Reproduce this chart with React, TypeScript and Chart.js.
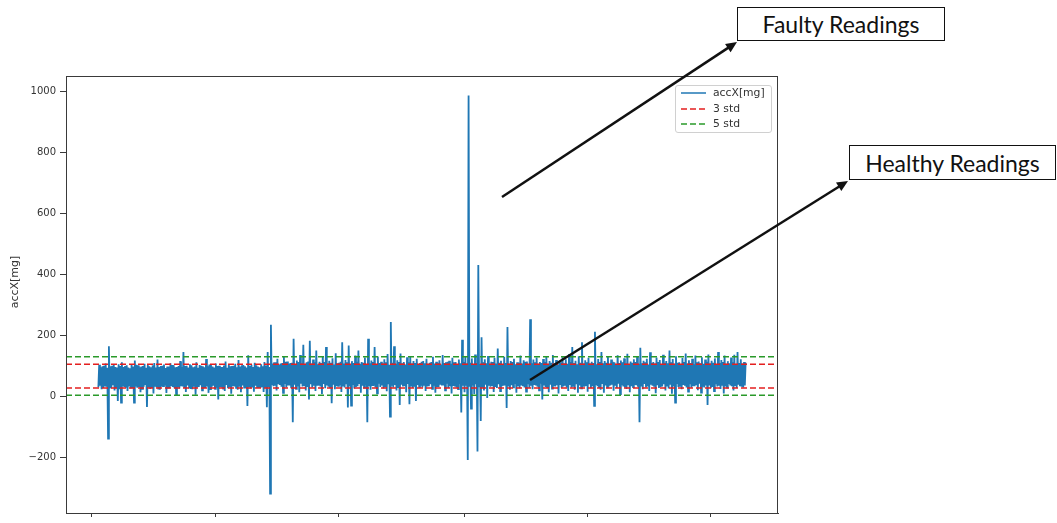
import React, { useEffect, useRef } from 'react';
import { Chart, registerables } from 'chart.js';
Chart.register(...registerables);

// ---- data: per x-bin, the lowest and the highest reading ----
const lows0 = [30, 35, 24, 28, 33, 32, -138, 26, 27, 37, 20, 30, -15, 24, -20, 34, 31, 29, 18, 36, 26, 27, -20, 33, 29, 31, 14, 25, 32, 38, -34, 30, 25, 28, 10, 35, 30, 23, 22, 32, 34, 36, 12, 29, 27, 34, 31, 27, 8, 31];
const lows1 = [26, 34, 33, 28, 15, 36, 29, 25, 24, 32, 6, 30, 31, 37, 20, 27, 28, 33, 12, 24, 32, 35, 25, 29, -10, 31, 30, 26, 18, 38, 27, 30, 9, 34, 33, 28, 22, 32, 14, 36, 29, 27, -31, 33, 26, 30, 16, 35, 31, 29];
const lows2 = [28, 33, 15, 29, -35, 31, -318, 38, 34, 35, 20, 40, 38, 32, 12, 41, 30, 36, 36, 30, -84, 39, 25, 34, 14, 42, 33, 37, 20, 31, -10, 40, 30, 35, 18, 38, 36, 33, 8, 41, 27, 36, 32, 30, -22, 39, 24, 34, 35, 37];
const lows3 = [15, 36, 30, 40, -36, 33, -30, 38, 26, 31, 34, 41, 12, 35, 29, 39, -84, 34, 22, 37, 35, 30, 10, 42, 31, 36, 26, 33, 17, 40, -66, 35, 30, 38, 20, 31, -28, 39, 33, 34, 14, 41, -25, 36, 28, 32, -15, 38, 32, 35];
const lows4 = [30, 38, 18, 33, 34, 40, 25, 35, 12, 31, 31, 39, 36, 36, 20, 42, 28, 34, 10, 37, 33, 30, 24, 41, -52, 35, 14, 38, -208, 32, -40, 36, 8, 40, -180, 33, -80, 29, 20, 39, -5, 35, 32, 37, 15, 31, 28, 40, 18, 34];
const lows5 = [35, 39, -38, 33, 22, 37, 30, 41, 12, 34, 27, 36, 34, 30, 16, 40, 29, 35, 24, 38, 36, 32, 20, 42, -10, 36, 31, 31, 14, 39, 26, 34, 33, 37, 10, 41, 28, 33, 35, 30, 18, 38, 30, 35, 22, 40, 12, 36, 27, 32];
const lows6 = [32, 37, 16, 40, 27, 34, -31, 38, 34, 31, 22, 41, 12, 36, 30, 33, 36, 39, 19, 35, 28, 42, 8, 37, 33, 30, 25, 40, 14, 34, 31, 38, 37, 32, -84, 36, 24, 41, 30, 33, 18, 39, 35, 35, 11, 37, 28, 31, 33, 40];
const lows7 = [20, 36, 26, 39, 9, 33, -20, 41, 31, 35, 24, 38, 35, 30, 16, 40, 29, 34, 34, 37, 21, 42, 13, 32, 30, 36, -28, 39, 27, 31, 18, 40, 33, 35, 25, 38, 10, 33, 29, 41, 36, 34, 20, 37, 28, 39, 34, 32, 30, 36];

const highs0 = [104, 96, 99, 101, 108, 94, 165, 99, 101, 103, 97, 95, 106, 100, 112, 97, 100, 102, 95, 93, 104, 98, 118, 104, 102, 96, 98, 100, 107, 94, 103, 99, 96, 102, 110, 95, 121, 97, 100, 101, 105, 93, 98, 98, 109, 103, 102, 96, 97, 100];
const highs1 = [116, 97, 146, 100, 101, 95, 106, 102, 96, 98, 112, 94, 103, 101, 99, 96, 123, 99, 105, 103, 98, 95, 108, 100, 101, 97, 97, 102, 115, 94, 103, 99, 100, 101, 107, 96, 120, 98, 102, 103, 99, 95, 135, 100, 104, 97, 111, 102, 98, 96];
const highs2 = [106, 99, 113, 102, 146, 97, 235, 108, 112, 112, 124, 105, 108, 110, 131, 114, 115, 107, 110, 111, 189, 106, 118, 113, 136, 109, 170, 104, 112, 115, 183, 108, 121, 112, 151, 106, 114, 110, 133, 113, 162, 107, 117, 111, 125, 105, 142, 109, 111, 114];
const highs3 = [178, 108, 120, 112, 167, 106, 116, 110, 134, 114, 151, 107, 113, 111, 128, 105, 189, 109, 118, 113, 162, 106, 131, 110, 114, 108, 122, 112, 139, 104, 244, 111, 165, 107, 119, 113, 141, 109, 113, 105, 129, 112, 130, 108, 116, 110, 124, 106, 110, 114];
const highs4 = [116, 109, 124, 106, 111, 113, 130, 108, 114, 111, 119, 105, 136, 110, 112, 114, 117, 107, 127, 112, 113, 106, 121, 109, 186, 113, 132, 108, 987, 111, 125, 105, 138, 110, 431, 107, 194, 112, 122, 109, 133, 106, 114, 113, 127, 108, 157, 111, 117, 105];
const highs5 = [130, 110, 228, 107, 116, 113, 124, 106, 112, 111, 134, 108, 119, 114, 115, 105, 253, 109, 121, 112, 128, 107, 113, 110, 123, 113, 131, 106, 116, 111, 136, 108, 120, 104, 112, 112, 129, 109, 122, 107, 139, 113, 162, 110, 117, 106, 132, 111, 178, 108];
const highs6 = [119, 112, 127, 108, 114, 110, 212, 106, 123, 113, 146, 109, 116, 111, 131, 107, 121, 114, 112, 105, 135, 110, 118, 112, 125, 108, 140, 106, 115, 111, 122, 113, 130, 107, 160, 109, 117, 112, 124, 105, 145, 110, 113, 108, 128, 113, 120, 106, 137, 111];
const highs7 = [116, 109, 151, 112, 123, 107, 132, 111, 112, 105, 126, 113, 141, 108, 119, 110, 124, 106, 134, 112, 115, 109, 129, 107, 121, 114, 138, 108, 117, 111, 125, 105, 146, 110, 120, 113, 134, 107, 116, 109, 128, 112, 137, 106, 146, 110, 122, 108, 113, 111];

const std3Levels = [28, 106];
const std5Levels = [4, 130];

const seriesLabels = ['accX[mg]', '3 std', '5 std'];
const yAxisTitle = 'accX[mg]';
const yTicks = [-200, 0, 200, 400, 600, 800, 1000];
const xTicks = [-4, 72, 148, 226, 302, 378];
const annotations = ['Faulty Readings', 'Healthy Readings'];

const X_MIN = -19.975;
const X_MAX = 419.475;
const Y_MIN = -382;
const Y_MAX = 1051;

const BLUE = '#1f77b4';
const RED = '#e41f1f';
const GREEN = '#2a9a2a';
const AXIS = '#3a3a3a';

const framePlugin = {
  id: 'frameAndTitle',
  afterDraw(chart: any) {
    const { ctx, chartArea } = chart;
    const { left, top, right, bottom } = chartArea;
    ctx.save();
    ctx.strokeStyle = AXIS;
    ctx.lineWidth = 1;
    ctx.strokeRect(Math.round(left) + 0.5, Math.round(top) + 0.5, Math.round(right - left) - 1, Math.round(bottom - top));
    ctx.translate(15, 282);
    ctx.rotate(-Math.PI / 2);
    ctx.fillStyle = '#333';
    ctx.font = '11px "DejaVu Sans"';
    ctx.textAlign = 'center';
    ctx.textBaseline = 'middle';
    ctx.fillText(yAxisTitle, 0, 0);
    ctx.restore();
  },
};

function arrowHead(x1: number, y1: number, x2: number, y2: number, len: number, half: number) {
  const dx = x2 - x1;
  const dy = y2 - y1;
  const d = Math.hypot(dx, dy);
  const ux = dx / d;
  const uy = dy / d;
  const bx = x2 - ux * len;
  const by = y2 - uy * len;
  const px = -uy;
  const py = ux;
  return `${x2},${y2} ${bx + px * half},${by + py * half} ${bx - px * half},${by - py * half}`;
}

export default function App() {
  const ref = useRef<HTMLCanvasElement>(null);

  useEffect(() => {
    const lows = [...lows0, ...lows1, ...lows2, ...lows3, ...lows4, ...lows5, ...lows6, ...lows7];
    const highs = [...highs0, ...highs1, ...highs2, ...highs3, ...highs4, ...highs5, ...highs6, ...highs7];
    const pts: { x: number; y: number }[] = [];
    for (let i = 0; i < lows.length; i++) {
      pts.push({ x: i, y: lows[i] });
      pts.push({ x: i + 0.5, y: highs[i] });
    }
    const hline = (v: number) => [
      { x: X_MIN, y: v },
      { x: X_MAX, y: v },
    ];
    const dashed = (label: string, v: number, color: string, order: number) => ({
      label,
      data: hline(v),
      borderColor: color,
      borderWidth: 1.5,
      borderDash: [6, 3],
      pointRadius: 0,
      fill: false,
      order,
    });

    const chart = new Chart(ref.current as HTMLCanvasElement, {
      type: 'line',
      data: {
        datasets: [
          {
            label: seriesLabels[0],
            data: pts,
            borderColor: BLUE,
            borderWidth: 1.8,
            pointRadius: 0,
            tension: 0,
            fill: false,
            order: 5,
          },
          dashed(seriesLabels[1], std3Levels[0], RED, 4),
          dashed(seriesLabels[1], std3Levels[1], RED, 3),
          dashed(seriesLabels[2], std5Levels[0], GREEN, 2),
          dashed(seriesLabels[2], std5Levels[1], GREEN, 1),
        ] as any,
      },
      options: {
        animation: false,
        responsive: false,
        events: [],
        layout: { padding: { left: 0, top: 76, right: 279, bottom: 0 } },
        plugins: {
          legend: { display: false },
          tooltip: { enabled: false },
          title: { display: false },
        },
        scales: {
          x: {
            type: 'linear',
            min: X_MIN,
            max: X_MAX,
            afterBuildTicks: (s: any) => {
              s.ticks = xTicks.map((v) => ({ value: v }));
            },
            afterFit: (s: any) => {
              s.height = 3;
            },
            ticks: { display: false },
            grid: { drawOnChartArea: false, drawTicks: true, tickLength: 4, color: AXIS, tickColor: AXIS },
            border: { display: true, color: AXIS },
          },
          y: {
            type: 'linear',
            min: Y_MIN,
            max: Y_MAX,
            afterBuildTicks: (s: any) => {
              s.ticks = yTicks.map((v) => ({ value: v }));
            },
            afterFit: (s: any) => {
              s.width = 66;
            },
            ticks: {
              font: { family: 'DejaVu Sans', size: 10 },
              color: '#333',
              padding: 4,
              callback: (v: any) => (Number(v) < 0 ? '\u2212' + Math.abs(Number(v)) : String(v)),
            },
            grid: { drawOnChartArea: false, drawTicks: true, tickLength: 6, color: AXIS, tickColor: AXIS },
            border: { display: true, color: AXIS },
          },
        },
      } as any,
      plugins: [framePlugin],
    });
    return () => chart.destroy();
  }, []);

  const legendRows = [
    { label: seriesLabels[0], color: BLUE, dash: '' },
    { label: seriesLabels[1], color: RED, dash: '6 3' },
    { label: seriesLabels[2], color: GREEN, dash: '6 3' },
  ];

  const arrows = [
    { x1: 502, y1: 197, x2: 737, y2: 42 },
    { x1: 530, y1: 380, x2: 848, y2: 181 },
  ];

  const boxStyle: React.CSSProperties = {
    position: 'absolute',
    border: '1px solid #111',
    background: '#fff',
    boxSizing: 'border-box',
    display: 'flex',
    alignItems: 'center',
    justifyContent: 'center',
    fontFamily: 'Lato, "Noto Sans", sans-serif',
    fontSize: 23,
    color: '#111',
    whiteSpace: 'nowrap',
  };

  return (
    <div style={{ position: 'fixed', left: 0, top: 0, width: 1057, height: 523, overflow: 'hidden', background: '#fff' }}>
      <canvas ref={ref} width={1057} height={523} style={{ display: 'block', position: 'absolute', left: 0, top: 0 }} />
      <div
        style={{
          position: 'absolute',
          left: 675,
          top: 85,
          width: 97,
          height: 48,
          border: '1px solid #d0d0d0',
          borderRadius: 3,
          background: 'rgba(255,255,255,0.8)',
          boxSizing: 'border-box',
          fontFamily: '"DejaVu Sans"',
          fontSize: 10.8,
          color: '#333',
        }}
      >
        {legendRows.map((r, i) => (
          <div key={i} style={{ position: 'absolute', left: 0, top: 0 + i * 15.5, height: 14, width: '100%' }}>
            <svg width={26} height={14} style={{ position: 'absolute', left: 5, top: 0 }}>
              <line x1={0} y1={7} x2={25} y2={7} stroke={r.color} strokeWidth={1.5} strokeDasharray={r.dash || undefined} />
            </svg>
            <span style={{ position: 'absolute', left: 37, top: 0, lineHeight: '14px' }}>{r.label}</span>
          </div>
        ))}
      </div>
      <svg width={1057} height={523} style={{ position: 'absolute', left: 0, top: 0, pointerEvents: 'none' }}>
        {arrows.map((a, i) => {
          const d = Math.hypot(a.x2 - a.x1, a.y2 - a.y1);
          const ex = a.x2 - ((a.x2 - a.x1) / d) * 8;
          const ey = a.y2 - ((a.y2 - a.y1) / d) * 8;
          return (
            <g key={i}>
              <line x1={a.x1} y1={a.y1} x2={ex} y2={ey} stroke="#111" strokeWidth={2.5} />
              <polygon points={arrowHead(a.x1, a.y1, a.x2, a.y2, 11, 5)} fill="#111" />
            </g>
          );
        })}
      </svg>
      <div style={{ ...boxStyle, left: 737, top: 7, width: 208, height: 34 }}>{annotations[0]}</div>
      <div style={{ ...boxStyle, left: 849, top: 145, width: 207, height: 35 }}>{annotations[1]}</div>
    </div>
  );
}
